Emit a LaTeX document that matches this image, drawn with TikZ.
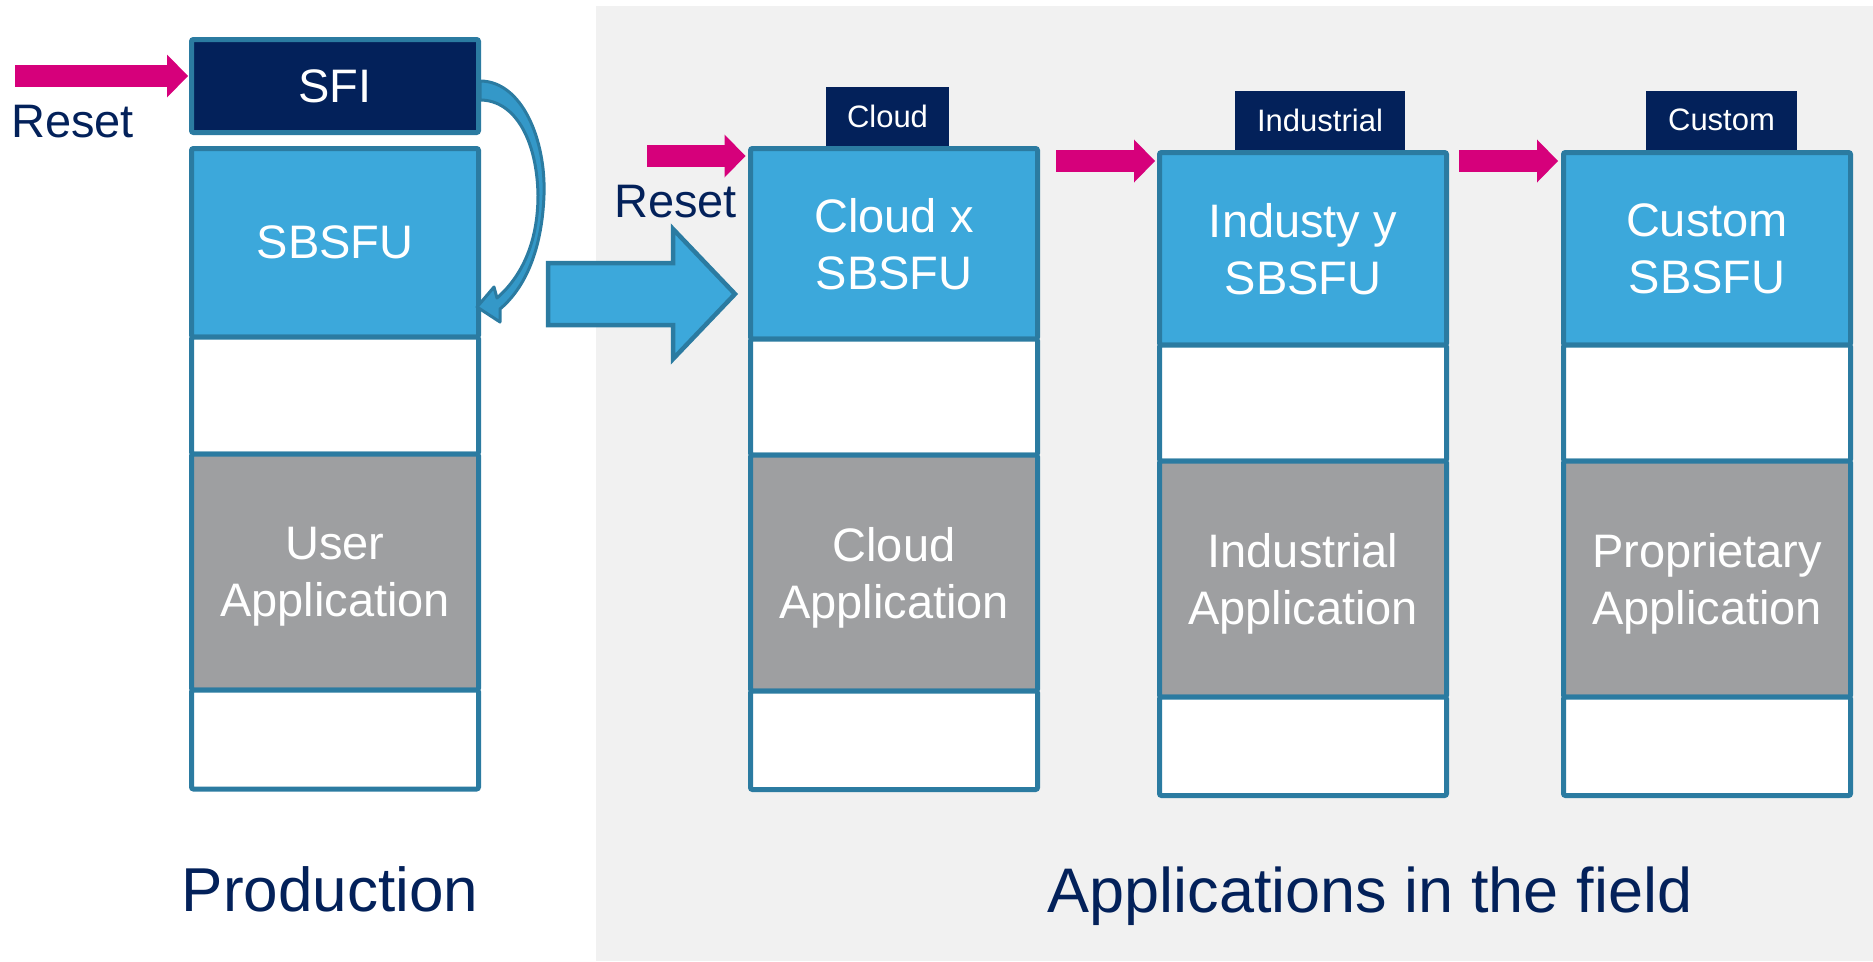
\documentclass[tikz,border=0pt]{standalone}
\usepackage{fontspec}
\setmainfont{Liberation Sans}
\usetikzlibrary{arrows.meta}

\definecolor{navy}{HTML}{03215A}
\definecolor{rstpink}{HTML}{D6007B}
\definecolor{sky}{HTML}{3CA8DB}
\definecolor{curlsky}{HTML}{3498C8}
\definecolor{edge}{HTML}{2B7BA1}
\definecolor{appgray}{HTML}{9E9FA1}
\definecolor{fieldbg}{HTML}{F1F1F1}

% one flash memory column: firmware, free, application, free
% #1 name, #2 left, #3 top, #4-#6 dividers, #7 bottom, #8 firmware text, #9 application text
\newcommand{\memstack}[9]{%
  \node[seg, fill=sky,     minimum height={#4-#3}] (#1-fw)   at (#2,#3) {#8};
  \node[seg, fill=white,   minimum height={#5-#4}] (#1-free) at (#2,#4) {};
  \node[seg, fill=appgray, minimum height={#6-#5}, text depth=0pt] (#1-app) at (#2,#5) {#9};
  \node[seg, fill=white,   minimum height={#7-#6}] (#1-end)  at (#2,#6) {};
}

\begin{document}
\begin{tikzpicture}[x=1pt, y=-1pt,
  seg/.style={draw=edge, line width=5pt, rounded corners=2pt, inner sep=0pt, outer sep=0pt,
              minimum width=287pt, anchor=north west, align=center, text=white,
              font=\fontsize{47}{57}\selectfont},
  tag/.style={fill=navy, anchor=south, minimum height=59pt, inner sep=0pt, text=white,
              font=\fontsize{31}{37}\selectfont},
  resetarrow/.style={draw=rstpink, line width=22pt,
              -{Triangle[length=21pt, width=43pt, line width=0pt]}},
  label/.style={inner sep=0pt, text=navy, anchor=base west, font=\fontsize{47}{57}\selectfont},
  title/.style={inner sep=0pt, text=navy, anchor=base}]

\useasboundingbox (0,0) rectangle (1873,961);

% field area
\fill[fieldbg] (596,6) rectangle (1873,961);

% production device
\node[seg, fill=navy, minimum height=93pt] (sfi) at (191.5,39.5) {SFI};
\memstack{prod}{191.5}{148.5}{337}{454}{690}{789}{SBSFU}{User\\Application}

% devices in the field
\memstack{cloud}{750.5}{148.5}{339}{455}{691}{789.5}{Cloud x\\SBSFU}{Cloud\\Application}
\memstack{ind}{1159.5}{152.5}{345}{461}{697}{795.5}{Industy y\\SBSFU}{Industrial\\Application}
\memstack{cust}{1563.5}{152.5}{345}{461}{697}{795.5}{Custom\\SBSFU}{Proprietary\\Application}

\node[tag, minimum width=123pt] (cloud-tag) at (887.5,146) {Cloud};
\node[tag, minimum width=170pt] (ind-tag)   at (1320,150) {Industrial};
\node[tag, minimum width=151pt] (cust-tag)  at (1721.5,150) {Custom};

% reset arrows
\coordinate (r1) at (15,76);
\coordinate (r2) at (647,156);
\coordinate (r3) at (1056,161);
\coordinate (r4) at (1459,161);
\coordinate (e1) at ([xshift=-3.5pt]sfi.west);
\coordinate (e2) at ([xshift=-5pt]cloud-fw.west);
\coordinate (e3) at ([xshift=-4.5pt]ind-fw.west);
\coordinate (e4) at ([xshift=-5.5pt]cust-fw.west);
\draw[resetarrow] (r1) -- (e1 |- r1);
\draw[resetarrow] (r2) -- (e2 |- r2);
\draw[resetarrow] (r3) -- (e3 |- r3);
\draw[resetarrow] (r4) -- (e4 |- r4);

\node[label] (reset1) at (11,137) {Reset};
\node[label] (reset2) at (614,217) {Reset};

% SFI installs SBSFU: curved block arrow
\filldraw[fill=curlsky, draw=edge, line width=3pt, line join=round]
  (480,81) .. controls (522,81) and (546,140) .. (544,195)
  .. controls (542,250) and (525,288) .. (500,309)
  -- (500,322) -- (477,307) -- (494,287) -- (497,298)
  .. controls (520,278) and (538,245) .. (538,195)
  .. controls (537,140) and (515,100) .. (480,100) -- cycle;

% deployment block arrow
\filldraw[fill=sky, draw=edge, line width=4.5pt, line join=miter]
  (548,263) -- (673,263) -- (673,229) -- (735,294) -- (673,359)
  -- (673,325) -- (548,325) -- cycle;

% captions
\node[title, font=\fontsize{62}{74}\selectfont] (prod-title) at (330,911) {Production};
\node[title, font=\fontsize{63}{75}\selectfont] (field-title) at (1370,912) {Applications in the field};
\end{tikzpicture}
\end{document}
